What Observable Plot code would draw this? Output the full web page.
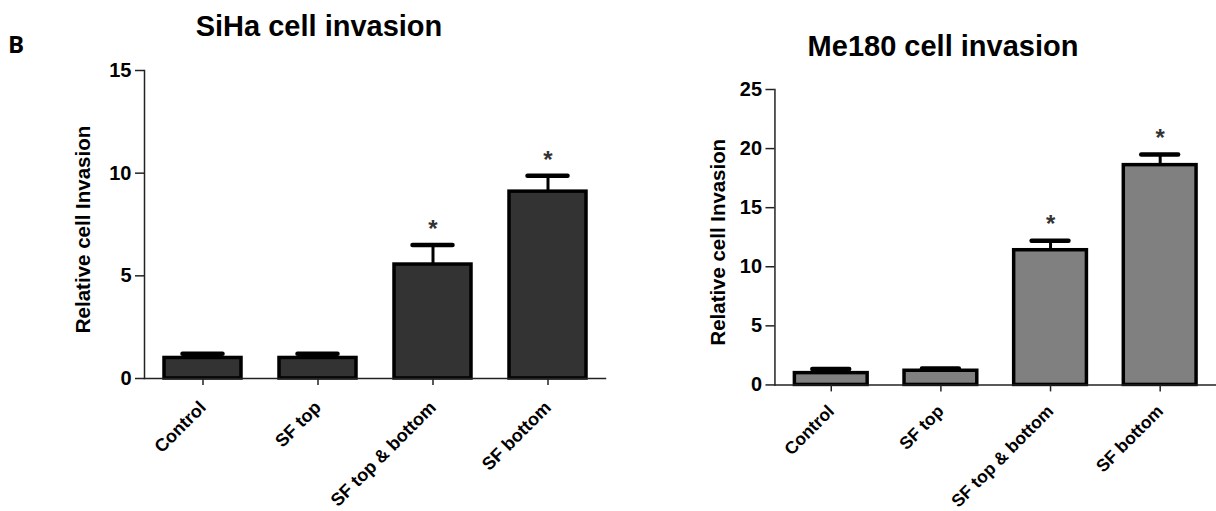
<!DOCTYPE html>
<html>
<head>
<meta charset="utf-8">
<script src="https://cdn.jsdelivr.net/npm/d3@7"></script>
<script src="https://cdn.jsdelivr.net/npm/@observablehq/plot@0.6"></script>
<style>
  html, body { margin: 0; padding: 0; background: #fff; width: 1216px; height: 511px; overflow: hidden; position: relative; font-family: "Liberation Sans", Arial, sans-serif; }
  .panel { position: absolute; top: 0; }
  .title { position: absolute; font-weight: bold; font-size: 29px; line-height: 29px; text-align: center; width: 400px; color: #000; white-space: nowrap; }
  .letter { position: absolute; left: 8px; top: 31.5px; font-family: "Open Sans", "Noto Sans", sans-serif; font-weight: bold; font-size: 24px; line-height: 24px; color: #000; }
</style>
</head>
<body>
<div class="letter">B</div>
<div class="title" style="left:119px; top:11.5px;">SiHa cell invasion</div>
<div class="title" style="left:743px; top:32px;">Me180 cell invasion</div>
<div id="left" class="panel" style="left:0px;"></div>
<div id="right" class="panel" style="left:606px;"></div>
<script>
const categories = ["Control", "SF top", "SF top & bottom", "SF bottom"];
const sihaMeans = [1.0, 1.0, 5.55, 9.1];
const sihaErrors = [0.2, 0.2, 0.95, 0.77];
const me180Means = [1.0, 1.2, 11.4, 18.6];
const me180Errors = [0.35, 0.2, 0.8, 0.9];
const significance = ["", "", "*", "*"];
const sihaTicks = [0, 5, 10, 15];
const me180Ticks = [0, 5, 10, 15, 20, 25];
const yLabel = "Relative cell Invasion";

function build(means, errors) {
  return categories.map((c, i) => ({cat: c, v: means[i], e: errors[i], star: significance[i]}));
}

function panel(opts) {
  const data = build(opts.means, opts.errors);
  return Plot.plot({
    width: opts.width,
    height: 511,
    marginLeft: opts.ml,
    marginRight: opts.mr,
    marginTop: opts.mt,
    marginBottom: opts.mb,
    style: {fontFamily: "'Liberation Sans', Arial, sans-serif", fontSize: "20px", fontWeight: "bold", color: "#000", background: "transparent", overflow: "visible"},
    x: {domain: categories, paddingInner: opts.pi, paddingOuter: opts.po, axis: null},
    y: {domain: opts.domain, axis: null},
    marks: [
      Plot.barY(data, {x: "cat", y: "v", fill: opts.fill, stroke: "#000", strokeWidth: 3.5}),
      Plot.ruleX(data, {x: "cat", y1: "v", y2: d => d.v + d.e, stroke: "#000", strokeWidth: 3}),
      Plot.tickY(data, {x: "cat", y: d => d.v + d.e, stroke: "#000", strokeWidth: 4.5, strokeLinecap: "round", insetLeft: opts.capInset, insetRight: opts.capInset}),
      Plot.text(data, {x: "cat", y: d => d.v + d.e, text: "star", dy: -16, fontSize: 24, fontWeight: "bold", fill: "#333"}),
      Plot.frame({anchor: "left", stroke: "#222", strokeWidth: 1.5}),
      Plot.frame({anchor: "bottom", stroke: "#222", strokeWidth: 1.5}),
      Plot.axisY({ticks: opts.ticks, tickSize: 9, tickPadding: 4, fontSize: 20, fontWeight: "bold", label: null, stroke: "#222", strokeWidth: 1.5}),
      Plot.axisX({tickSize: 7, tickFormat: () => "", label: null, stroke: "#222", strokeWidth: 1.5}),
      Plot.text(categories, {x: d => d, frameAnchor: "bottom", rotate: -45, textAnchor: "end", lineAnchor: "middle", dx: 0, dy: opts.labelDy, fontSize: opts.labelSize, fontWeight: "bold", fill: "#000"}),
      Plot.text([yLabel], {frameAnchor: "left", rotate: -90, textAnchor: "middle", lineAnchor: "middle", dx: opts.labelDx, dy: 5, fontSize: 20.5, fontWeight: "bold", fill: "#000"})
    ]
  });
}

document.getElementById("left").appendChild(panel({
  means: sihaMeans, errors: sihaErrors, fill: "#333333",
  width: 610, ml: 144, mr: 5, mt: 70, mb: 133,
  pi: 0.332, po: 0.163, domain: [0, 15], ticks: sihaTicks, capInset: 18.5, labelDx: -61,
  labelDy: 26, labelSize: 18
}));
document.getElementById("right").appendChild(panel({
  means: me180Means, errors: me180Errors, fill: "#808080",
  width: 612, ml: 169, mr: 0.5, mt: 89.3, mb: 125.3,
  pi: 0.339, po: 0.166, domain: [0, 25], ticks: me180Ticks, capInset: 18, labelDx: -57,
  labelDy: 23.5, labelSize: 17.5
}));
</script>
</body>
</html>
